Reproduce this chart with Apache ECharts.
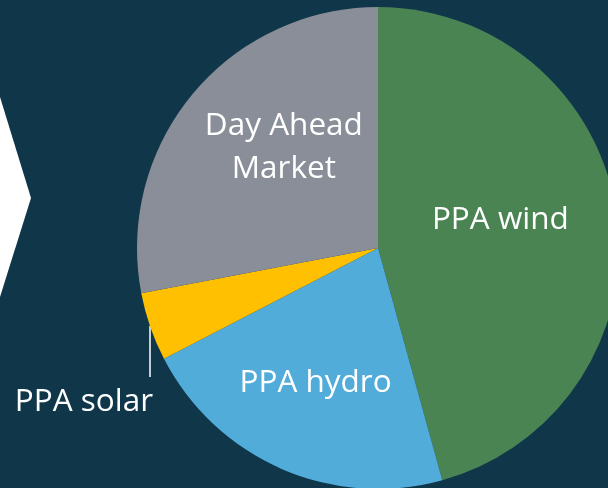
<!DOCTYPE html>
<html>
<head>
<meta charset="utf-8">
<script src="https://cdn.jsdelivr.net/npm/echarts@6/dist/echarts.min.js"></script>
<style>
  html, body { margin: 0; padding: 0; background: #10364a; }
  #chart { width: 608px; height: 488px; }
</style>
</head>
<body>
<div id="chart"></div>
<script>
var categories = ["PPA wind", "PPA hydro", "PPA solar", "Day Ahead\nMarket"];
var shares = [45.7, 21.7, 4.6, 28.0];
var colors = ["#4a8453", "#52acd9", "#fec000", "#8a8e99"];
// tweak where each inside label sits
var labelOffsets = [[0, -11], [-13, 22], [0, 0], [1, -22]];

var chart = echarts.init(document.getElementById("chart"));

var pieData = categories.map(function(name, i) {
    var item = {
        name: name,
        value: shares[i],
        itemStyle: { color: colors[i] },
        label: { offset: labelOffsets[i] }
    };
    if (i === 2) {
        item.label = { position: "outside", overflow: "none", width: 200 };
    }
    return item;
});

var option = {
    backgroundColor: "#10364a",
    animation: false,
    graphic: [{
        type: "polygon",
        shape: { points: [[0, 97], [31, 198], [0, 297]] },
        style: { fill: "#ffffff" }
    }, {
        type: "line",
        shape: { x1: 150, y1: 326, x2: 150, y2: 377 },
        style: { stroke: "#ffffff", lineWidth: 1.5 }
    }],
    series: [{
        type: "pie",
        center: [378, 248],
        radius: 241,
        startAngle: 90,
        clockwise: true,
        data: pieData,
        itemStyle: { borderWidth: 0 },
        label: {
            show: true,
            position: "inside",
            formatter: "{b}",
            color: "#ffffff",
            fontFamily: "Open Sans",
            fontSize: 31.5,
            lineHeight: 43
        },
        labelLine: { show: false },
        labelLayout: function(params) {
            if (params.dataIndex === 2) {
                return { x: 84, y: 402, align: "center", verticalAlign: "middle" };
            }
            return {};
        },
        emphasis: { disabled: true }
    }]
};
chart.setOption(option);
</script>
</body>
</html>
